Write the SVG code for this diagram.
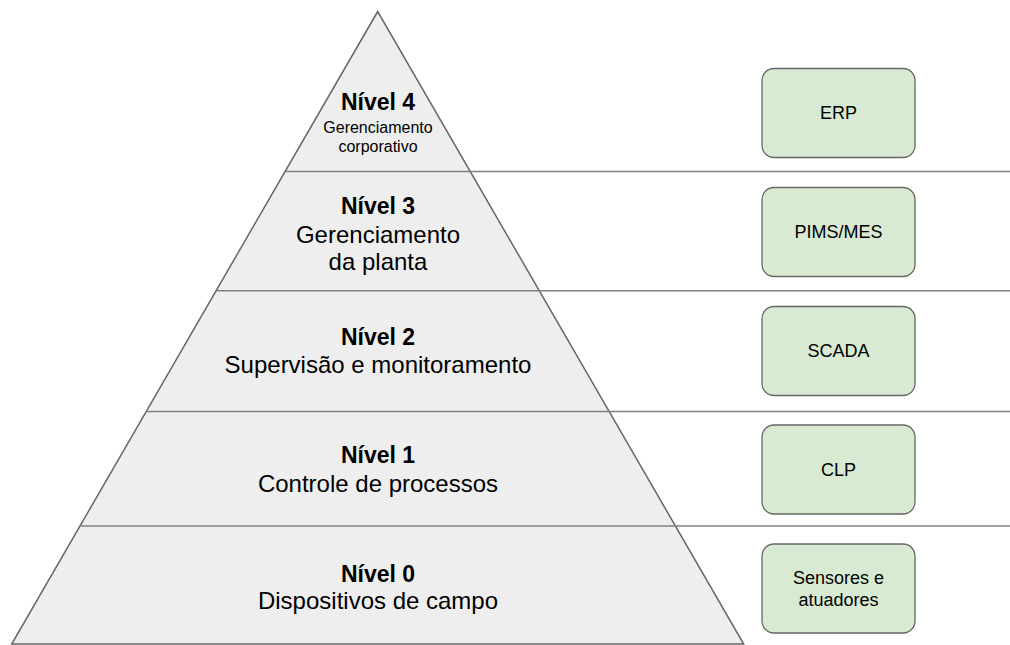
<svg xmlns="http://www.w3.org/2000/svg" width="1010" height="645" viewBox="0 0 1010 645">
  <style>
    .pyr { fill: #eeeeee; stroke: #666666; stroke-width: 1.5; }
    .sep { stroke: #808080; stroke-width: 1.6; fill: none; }
    .box { fill: #d9ead3; stroke: #666666; stroke-width: 1.3; }
    text { font-family: "Liberation Sans", Arial, sans-serif; fill: #000000; text-anchor: middle; }
    .lvl { font-weight: bold; font-size: 23px; }
    .desc { font-size: 24px; }
    .small { font-size: 16px; }
    .lbl { font-size: 18px; }
  </style>

  <!-- pyramid body -->
  <g id="pyramid">
    <polygon class="pyr" points="377.7,11.5 11.7,644 743.7,644"/>
  </g>

  <!-- level separators, from the pyramid's left edge to the right margin -->
  <g id="connectors">
    <line class="sep" x1="285.2" y1="171.5" x2="1010" y2="171.5"/>
    <line class="sep" x1="216.3" y1="290.8" x2="1010" y2="290.8"/>
    <line class="sep" x1="146.3" y1="411.5" x2="1010" y2="411.5"/>
    <line class="sep" x1="80" y1="526" x2="1010" y2="526"/>
  </g>

  <!-- level labels -->
  <g id="level4">
    <text class="lvl" x="378" y="110">Nível 4</text>
    <text class="small" x="378" y="133">Gerenciamento</text>
    <text class="small" x="378" y="152">corporativo</text>
  </g>
  <g id="level3">
    <text class="lvl" x="378" y="214">Nível 3</text>
    <text class="desc" x="378" y="243">Gerenciamento</text>
    <text class="desc" x="378" y="270">da planta</text>
  </g>
  <g id="level2">
    <text class="lvl" x="378" y="345">Nível 2</text>
    <text class="desc" x="378" y="373">Supervisão e monitoramento</text>
  </g>
  <g id="level1">
    <text class="lvl" x="378" y="463">Nível 1</text>
    <text class="desc" x="378" y="492">Controle de processos</text>
  </g>
  <g id="level0">
    <text class="lvl" x="378" y="582">Nível 0</text>
    <text class="desc" x="378" y="609">Dispositivos de campo</text>
  </g>

  <!-- systems on each level -->
  <g id="erp">
    <rect class="box" x="762" y="68.5" width="153" height="89" rx="12"/>
    <text class="lbl" x="838.5" y="119">ERP</text>
  </g>
  <g id="pims-mes">
    <rect class="box" x="762" y="187.5" width="153" height="89" rx="12"/>
    <text class="lbl" x="838.5" y="238">PIMS/MES</text>
  </g>
  <g id="scada">
    <rect class="box" x="762" y="306.5" width="153" height="89" rx="12"/>
    <text class="lbl" x="838.5" y="357">SCADA</text>
  </g>
  <g id="clp">
    <rect class="box" x="762" y="425" width="153" height="89" rx="12"/>
    <text class="lbl" x="838.5" y="476">CLP</text>
  </g>
  <g id="sensores">
    <rect class="box" x="762" y="544" width="153" height="89" rx="12"/>
    <text class="lbl" x="838.5" y="584">Sensores e</text>
    <text class="lbl" x="838.5" y="606">atuadores</text>
  </g>
</svg>
